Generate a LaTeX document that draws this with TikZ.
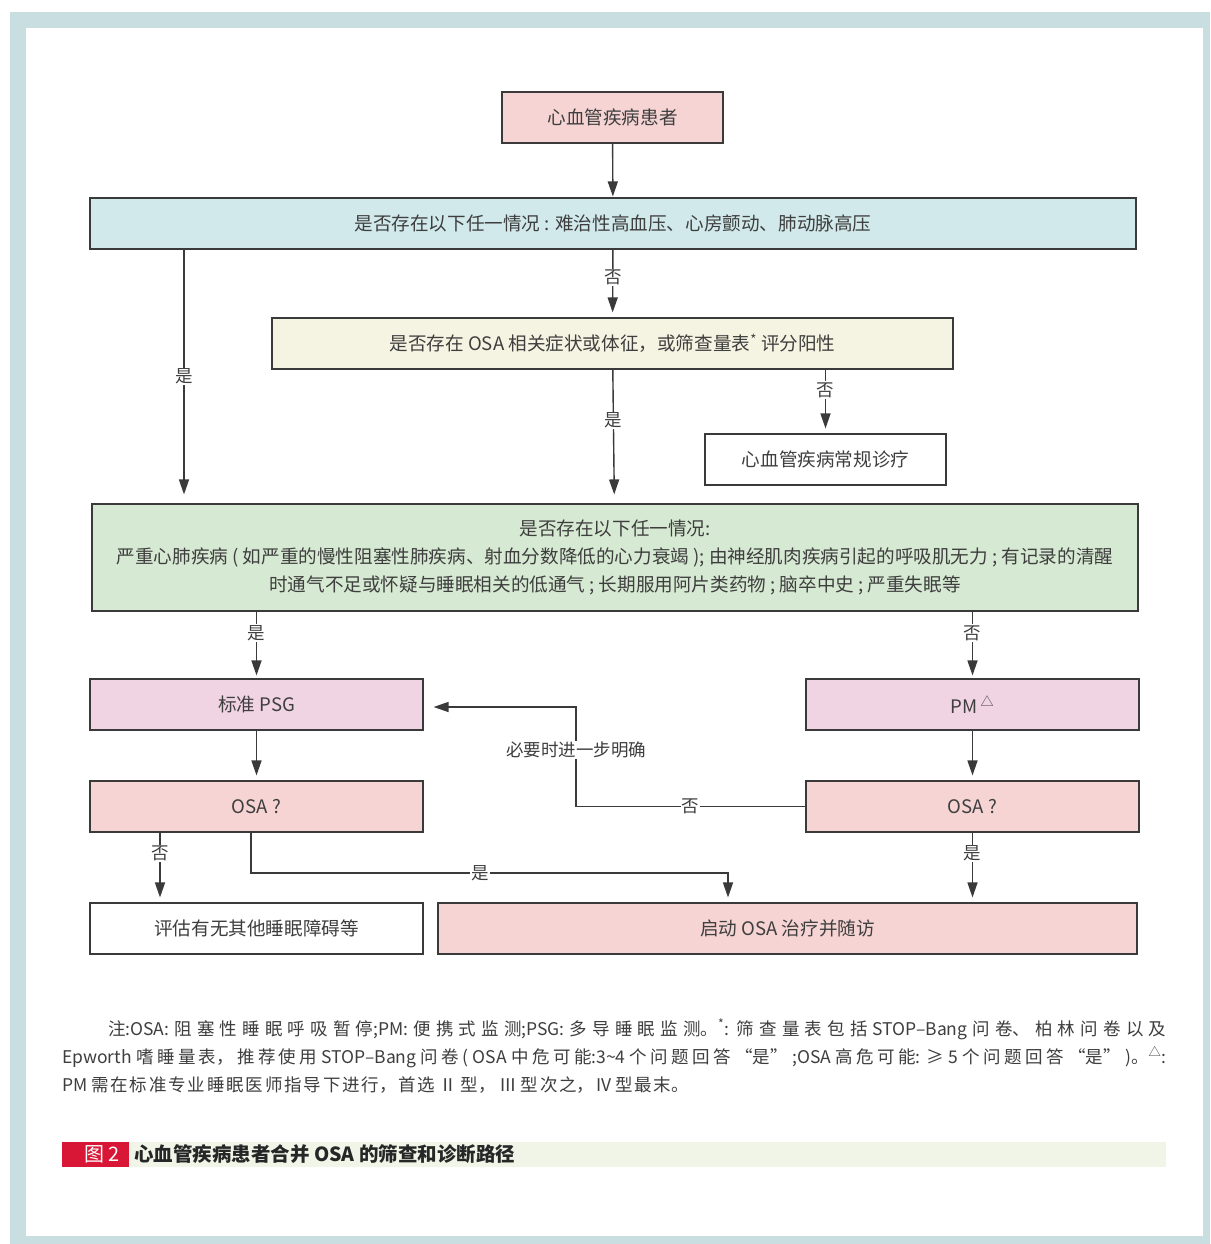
\documentclass[tikz,border=0pt]{standalone}
\usepackage{fontspec}
\setmainfont{Noto Sans CJK SC}
\usetikzlibrary{arrows.meta, positioning}
\definecolor{framegray}{RGB}{201,222,225}
\definecolor{linegray}{RGB}{58,58,58}
\definecolor{textgray}{RGB}{62,62,62}
\definecolor{boxpink}{RGB}{245,212,211}
\definecolor{boxcyan}{RGB}{209,233,235}
\definecolor{boxcream}{RGB}{245,244,226}
\definecolor{boxgreen}{RGB}{214,233,210}
\definecolor{boxlilac}{RGB}{241,212,228}
\definecolor{capred}{RGB}{216,22,54}
\definecolor{capgreen}{RGB}{240,245,232}
\XeTeXlinebreaklocale "zh"
\XeTeXlinebreakskip=0pt plus 6pt

\begin{document}
\begin{tikzpicture}[x=1pt, y=-1pt,
  box/.style={draw=linegray, line width=1.1pt, inner sep=0pt, text=textgray,
    font=\fontsize{18.6}{22}\selectfont, align=center, minimum height=51pt},
  arr/.style={draw=linegray, line width=1.4pt, -{Triangle[length=15pt,width=10pt]}, shorten >=5pt},
  lbl/.style={fill=white, inner sep=1pt, text=textgray, font=\fontsize{17.5}{20}\selectfont}]
  \useasboundingbox (0,0) rectangle (1210,1244);
  % frame
  \fill[framegray] (10,12) rectangle (1210,1244);
  \fill[white] (26,28) rectangle (1203,1236);

  % boxes
  \node[box, fill=boxpink, minimum width=221pt] (patient) at (612.5,117.5) {心血管疾病患者};
  \node[box, fill=boxcyan, minimum width=1046pt] (screen) at (613,223.5)
    {是否存在以下任一情况 : 难治性高血压、心房颤动、肺动脉高压};
  \node[box, fill=boxcream, minimum width=681pt] (symptom) at (612.5,343.5)
    {是否存在 OSA 相关症状或体征，或筛查量表\textsuperscript{*} 评分阳性};
  \node[box, fill=white, minimum width=241pt] (routine) at (825.5,459.5) {心血管疾病常规诊疗};
  \node[box, fill=boxgreen, minimum width=1046pt, minimum height=107pt,
    font=\fontsize{18.6}{28}\selectfont] (comorbid) at (615,557.5)
    {是否存在以下任一情况:\\
     严重心肺疾病 ( 如严重的慢性阻塞性肺疾病、射血分数降低的心力衰竭 ); 由神经肌肉疾病引起的呼吸肌无力 ; 有记录的清醒\\
     时通气不足或怀疑与睡眠相关的低通气 ; 长期服用阿片类药物 ; 脑卒中史 ; 严重失眠等};
  \node[box, fill=boxlilac, minimum width=333pt] (psg) at (256.5,704.5) {标准 PSG};
  \node[box, fill=boxlilac, minimum width=333pt] (pm) at (972.5,704.5) {PM\,\textsuperscript{△}};
  \node[box, fill=boxpink, minimum width=333pt] (osal) at (256.5,806.5) {OSA ?};
  \node[box, fill=boxpink, minimum width=333pt] (osar) at (972.5,806.5) {OSA ?};
  \node[box, fill=white, minimum width=333pt] (other) at (256.5,928.5) {评估有无其他睡眠障碍等};
  \node[box, fill=boxpink, minimum width=699pt] (treat) at (787.5,928.5) {启动 OSA 治疗并随访};

  % helper points for bends
  \coordinate (yesline) at (184,0);
  \coordinate (noline) at (160,0);
  \coordinate (bendA) at (251,873);
  \coordinate (bendB) at (728,873);
  \coordinate (turnA) at (576,806.5);
  \coordinate (turnB) at (576,707);

  % connectors
  \draw[arr, shorten >=1pt] (patient) -- (screen);
  \draw[arr] (screen) -- node[lbl, pos=0.41] {否} (symptom);
  \draw[arr, shorten >=9pt] (screen.south -| yesline) -- node[lbl, pos=0.5] {是} (comorbid.north -| yesline);
  \draw[arr, shorten >=9pt] (symptom) -- node[lbl, pos=0.38] {是} (comorbid);
  \draw[arr] (symptom.south -| routine) -- node[lbl, pos=0.32] {否} (routine);
  \draw[arr, shorten >=3pt] (comorbid.south -| psg) -- node[lbl, pos=0.32] {是} (psg);
  \draw[arr, shorten >=3pt] (comorbid.south -| pm) -- node[lbl, pos=0.32] {否} (pm);
  \draw[arr] (psg) -- (osal);
  \draw[arr] (pm) -- (osar);
  \draw[arr, shorten >=10pt] (osar.west) -- node[lbl] {否} (turnA)
    -- node[lbl, pos=0.57] {必要时进一步明确} (turnB) -- (psg.east |- turnB);
  \draw[arr] (osal.south -| noline) -- node[lbl, pos=0.3] {否} (other.north -| noline);
  \draw[arr] (osal.south -| bendA) -- (bendA) -- node[lbl, pos=0.48] {是} (bendB) -- (treat.north -| bendB);
  \draw[arr] (osar) -- node[lbl, pos=0.3] {是} (treat.north -| osar);

  % notes
  \node[anchor=north west, text width=1104pt, align=justify, inner sep=0pt, text=textgray,
    font=\fontsize{17.5}{28}\selectfont] (notes) at (62,1019)
    {\XeTeXlinebreakskip=1.8pt plus 6pt
     \hspace*{46pt}注:OSA: 阻塞性睡眠呼吸暂停;PM: 便携式监测;PSG: 多导睡眠监测。\textsuperscript{*}: 筛查量表包括 STOP–Bang 问卷、柏林问卷以及\linebreak
     Epworth 嗜睡量表，推荐使用 STOP–Bang 问卷( OSA 中危可能:3\textasciitilde 4 个问题回答 “是” ;OSA 高危可能: ≥ 5 个问题回答 “是” )。\textsuperscript{△}:\linebreak
     PM 需在标准专业睡眠医师指导下进行，首选 Ⅱ 型， Ⅲ 型次之，IV 型最末。};

  % caption
  \fill[capred] (62,1142) rectangle (129,1167);
  \fill[capgreen] (129,1142) rectangle (1166,1167);
  \node[anchor=west, inner sep=0pt, text=white, font=\fontsize{20}{22}\selectfont] (fignum) at (84,1154.5) {图 2};
  \node[anchor=west, inner sep=0pt, text=black!85, font=\fontsize{19.5}{22}\selectfont\bfseries] (figtitle) at (134,1154.5)
    {心血管疾病患者合并 OSA 的筛查和诊断路径};
\end{tikzpicture}
\end{document}
